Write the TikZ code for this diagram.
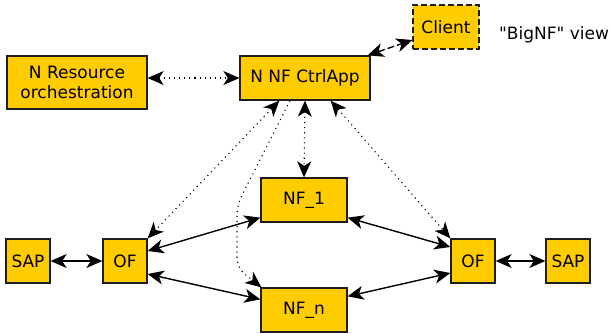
\documentclass[tikz,border=0pt]{standalone}
\usepackage{fontspec}
\setmainfont{DejaVu Sans}
\newfontfamily\dvfont{DejaVu Sans}
\usetikzlibrary{arrows.meta}
\definecolor{gold}{RGB}{255,204,0}
\definecolor{edge}{RGB}{30,30,30}
\tikzset{
  box/.style={draw=edge, fill=gold, line width=1.3pt, inner sep=0pt, align=center,
    font=\dvfont\fontsize{17}{20}\selectfont},
  solidlink/.style={{Stealth[length=16pt, width=14pt, inset=4.5pt]}-{Stealth[length=16pt, width=14pt, inset=4.5pt]}, line width=1.4pt, black},
  dotlink/.style={{Stealth[length=16pt, width=14pt, inset=4.5pt]}-{Stealth[length=16pt, width=14pt, inset=4.5pt]}, line width=1.1pt, dash pattern=on 1.1pt off 4pt, black},
  dotone/.style={-{Stealth[length=16pt, width=14pt, inset=4.5pt]}, line width=1.1pt, dash pattern=on 1.1pt off 4pt, black, rounded corners=10pt},
  dashlink/.style={{Stealth[length=16pt, width=14pt, inset=4.5pt]}-{Stealth[length=16pt, width=14pt, inset=4.5pt]}, line width=1.4pt, dash pattern=on 7pt off 3pt, black},
}
\begin{document}
\begin{tikzpicture}[x=1pt,y=-1pt]
\useasboundingbox (0,0) rectangle (612,333);
\node[box, minimum width=140pt, minimum height=53pt] (nro) at (77,82.5) {N Resource\\orchestration};
\node[box, minimum width=130pt, minimum height=44pt] (ctrl) at (305,78) {N NF CtrlApp};
\node[box, minimum width=66pt, minimum height=44pt, dash pattern=on 6pt off 3pt] (client) at (446,27) {Client};
\node[font=\dvfont\fontsize{17}{20}\selectfont, anchor=base] (bignf) at (554,39.5) {"BigNF" view};
\node[box, minimum width=86pt, minimum height=44pt] (nf1) at (304,200) {NF\_1};
\node[box, minimum width=86pt, minimum height=44pt] (nfn) at (304,310) {NF\_n};
\node[box, minimum width=44pt, minimum height=44pt] (ofl) at (125,261) {OF};
\node[box, minimum width=44pt, minimum height=44pt] (sapl) at (28,261) {SAP};
\node[box, minimum width=44pt, minimum height=44pt] (ofr) at (473,261) {OF};
\node[box, minimum width=44pt, minimum height=44pt] (sapr) at (568,261) {SAP};
\coordinate (bendA) at (237,205);
\coordinate (bendB) at (237,268);

\draw[dotlink] (nro.east |- ctrl.west) -- (ctrl.west);
\draw[dashlink] ([xshift=-3pt]ctrl.north east) -- ([yshift=-13pt]client.west);
\draw[dotlink] (ctrl.south) -- (nf1.north);
\draw[dotlink] ([xshift=40pt]ctrl.south west) -- (ofl.north east);
\draw[dotlink] ([xshift=-40pt]ctrl.south east) -- (ofr.north west);
\draw[dotone] ([xshift=-15pt]ctrl.south) -- (bendA) -- (bendB) -- ([xshift=1pt]nfn.north west);

\draw[solidlink] (sapl) -- (ofl);
\draw[solidlink] (ofr) -- (sapr);
\draw[solidlink] ([yshift=10pt]ofl.east) -- ([yshift=5pt]nf1.south west);
\draw[solidlink] ([yshift=-13pt]ofl.east) -- ([yshift=-12pt]nfn.north west);
\draw[solidlink] ([yshift=5pt]nf1.south east) -- ([yshift=14pt]ofr.west);
\draw[solidlink] ([yshift=-9pt]nfn.north east) -- ([yshift=-12pt]ofr.west);
\end{tikzpicture}
\end{document}
